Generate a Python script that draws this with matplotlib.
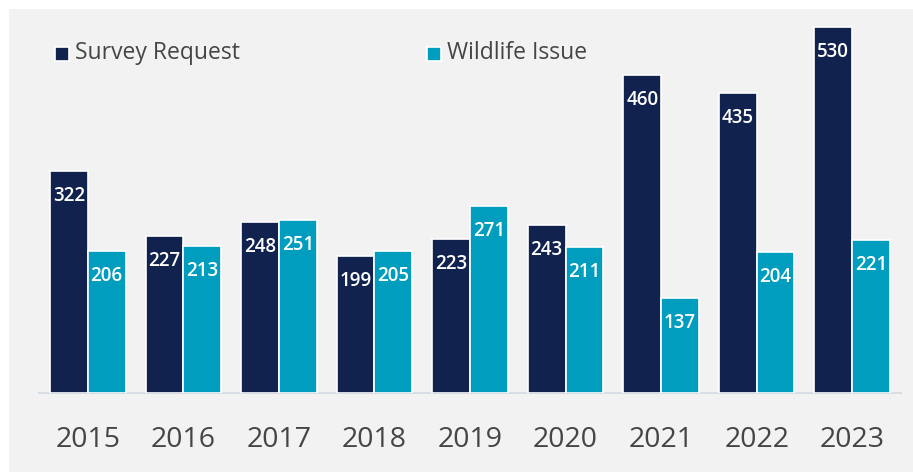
import matplotlib
matplotlib.use("Agg")
import matplotlib.pyplot as plt
from matplotlib.patches import Rectangle
import numpy as np

years = ["2015", "2016", "2017", "2018", "2019", "2020", "2021", "2022", "2023"]
survey = [322, 227, 248, 199, 223, 243, 460, 435, 530]
wildlife = [206, 213, 251, 205, 271, 211, 137, 204, 221]
series_names = ["Survey Request", "Wildlife Issue"]

NAVY = "#11224e"
TEAL = "#019dbf"
BG = "#f2f2f2"

plt.rcParams['font.family'] = ['Open Sans', 'DejaVu Sans']

W, H = 913, 474
fig = plt.figure(figsize=(W / 100, H / 100), dpi=100)
fig.patch.set_facecolor("white")
fig.patches.append(Rectangle((9 / W, 0.004), 1 - 9 / W, 1 - 9 / H - 0.004,
                             transform=fig.transFigure, facecolor=BG,
                             edgecolor="none", zorder=-10))

# axes: x from 40 to 900 px, baseline at y=393 px, top at y=10 px
left, right = 40, 900
base, top = 393, 10
ax = fig.add_axes([left / W, 1 - base / H, (right - left) / W, (base - top) / H])
ax.set_facecolor("none")
ppu = 366 / 530.0
ax.set_xlim(-0.5, len(years) - 0.5)
ax.set_ylim(0, (base - top) / ppu)

x = np.arange(len(years))
bw = 0.395
b1 = ax.bar(x - bw / 2, survey, width=bw, color=NAVY, edgecolor="white", linewidth=1.2, zorder=3)
b2 = ax.bar(x + bw / 2, wildlife, width=bw, color=TEAL, edgecolor="white", linewidth=1.2, zorder=3)

off = 25 / ppu
for bars, vals in ((b1, survey), (b2, wildlife)):
    for r, v in zip(bars, vals):
        ax.text(r.get_x() + r.get_width() / 2, v - off, str(v), ha="center", va="center",
                color="white", fontsize=13.5, fontweight="semibold", zorder=4)

ax.axhline(0, xmin=-0.001, xmax=1.001, color="#d8dde6", linewidth=1.5, zorder=2, clip_on=False)
for s in ax.spines.values():
    s.set_visible(False)
ax.set_yticks([])
ax.set_xticks(x)
ax.set_xticklabels(years, fontsize=20.5, color="#454545")
ax.tick_params(axis="x", length=0, pad=24)

# legend
def legend_item(xm, label, color):
    fig.patches.append(Rectangle((xm / W, 1 - 61 / H), 14 / W, 14 / H,
                                 transform=fig.transFigure, facecolor=color,
                                 edgecolor="white", linewidth=1.2, zorder=5))
    fig.text((xm + 20) / W, 1 - 53 / H, label, ha="left", va="center",
             fontsize=16.5, color="#454545")

legend_item(55, series_names[0], NAVY)
legend_item(427, series_names[1], TEAL)

fig.savefig("out.png", dpi=100, facecolor=fig.get_facecolor())
